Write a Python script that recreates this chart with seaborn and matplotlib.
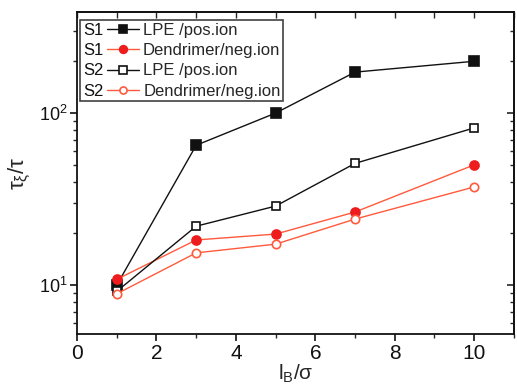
import matplotlib
matplotlib.use("Agg")
import matplotlib.pyplot as plt
import seaborn as sns
import numpy as np
import pandas as pd
from matplotlib.offsetbox import TextArea
from matplotlib.ticker import LogLocator, MultipleLocator, NullFormatter

# ---- data ----
lb_sigma = [1, 3, 5, 7, 10]
s1_lpe = [10.0, 65.0, 100.0, 173.0, 200.0]
s1_dend = [10.8, 18.3, 19.8, 26.6, 50.0]
s2_lpe = [9.2, 22.0, 28.8, 51.0, 82.0]
s2_dend = [8.9, 15.4, 17.3, 24.2, 37.2]
prefixes = ["S1", "S1", "S2", "S2"]
labels = ["LPE /pos.ion", "Dendrimer/neg.ion", "LPE /pos.ion", "Dendrimer/neg.ion"]

sns.set_theme(style="ticks")
fam = ["Liberation Sans", "DejaVu Sans"]
plt.rcParams["font.family"] = fam
plt.rcParams["mathtext.fontset"] = "custom"
plt.rcParams["mathtext.rm"] = "Liberation Sans"
plt.rcParams["mathtext.it"] = "Liberation Sans"
plt.rcParams["mathtext.default"] = "regular"

fig = plt.figure(figsize=(5.17, 3.92), dpi=100)
ax = fig.add_axes([0.149, 0.148, 0.845, 0.821])

black = "#111111"
red_line = "#ff5a3c"
red_fill = "#ee1c1c"

series = [
    (s1_lpe, black, "s", black, 6.5),
    (s1_dend, red_line, "o", red_fill, 6.5),
    (s2_lpe, black, "s", "white", 6),
    (s2_dend, red_line, "o", "white", 6),
]
handles = []
for vals, col, mk, face, ms in series:
    df = pd.DataFrame({"x": lb_sigma, "y": vals})
    sns.lineplot(data=df, x="x", y="y", ax=ax, color=col, marker=mk,
                 markerfacecolor=face, markeredgecolor=col if face == "white" else face,
                 markeredgewidth=1.2, markersize=ms, linewidth=1.0, legend=False)
    handles.append(ax.get_lines()[-1])

ax.set_yscale("log")
ax.set_xlim(0, 11)
ax.set_ylim(5.2, 386)

ax.xaxis.set_major_locator(MultipleLocator(2))
ax.xaxis.set_minor_locator(MultipleLocator(1))
ax.yaxis.set_major_locator(LogLocator(base=10, numticks=10))
ax.yaxis.set_minor_locator(LogLocator(base=10, subs=np.arange(2, 10), numticks=20))
ax.yaxis.set_minor_formatter(NullFormatter())

ax.tick_params(axis="both", which="major", direction="out", length=5, width=1.2,
               labelsize=15, colors=black, pad=2)
ax.tick_params(axis="both", which="minor", direction="out", length=3, width=1.0)
ax.tick_params(axis="y", labelsize=13)

for sp in ax.spines.values():
    sp.set_linewidth(1.3)
    sp.set_color(black)

# mirrored inward ticks on top and right
top = ax.secondary_xaxis("top")
top.xaxis.set_major_locator(MultipleLocator(1))
top.tick_params(direction="in", length=4, width=1.0, labeltop=False)
right = ax.secondary_yaxis("right")
right.yaxis.set_major_locator(LogLocator(base=10, numticks=10))
right.yaxis.set_minor_locator(LogLocator(base=10, subs=np.arange(2, 10), numticks=20))
right.tick_params(which="major", direction="in", length=5, width=1.2, labelright=False)
right.tick_params(which="minor", direction="in", length=3, width=1.0, labelright=False)
right.yaxis.set_minor_formatter(NullFormatter())

ax.set_xlabel(r"l$_B$/σ", fontsize=15, labelpad=0)
ax.set_ylabel(r"$\tau_\xi/\tau$", fontsize=16, labelpad=4)

leg = ax.legend(handles, labels, loc="upper left", bbox_to_anchor=(0.0, 0.985),
                fontsize=12, frameon=True, fancybox=False, edgecolor=black,
                handlelength=1.9, handletextpad=0.25, labelspacing=0.32,
                borderpad=0.15, borderaxespad=0.2, markerscale=0.85)
leg.get_frame().set_linewidth(1.2)
# put the S1/S2 prefix before each handle
rows = leg._legend_handle_box.get_children()[0].get_children()
for row, pre in zip(rows, prefixes):
    ta = TextArea(pre, textprops=dict(fontsize=12, color=black, family=fam))
    ta.set_figure(fig)
    row.get_children().insert(0, ta)

fig.savefig("out.png", dpi=100, facecolor="white")
